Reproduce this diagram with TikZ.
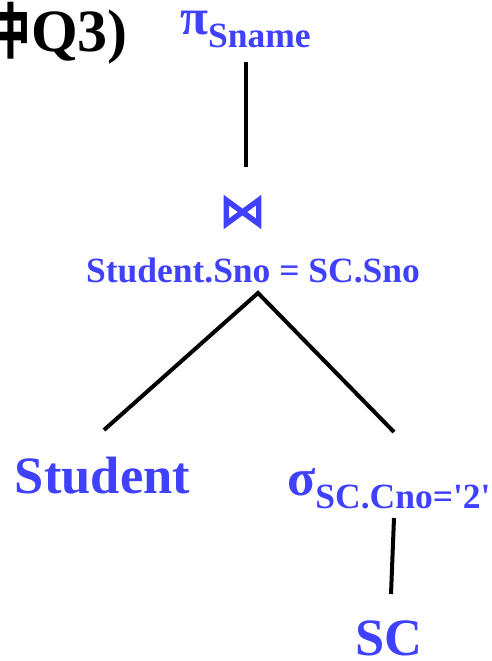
\documentclass[tikz,border=0pt]{standalone}
\usepackage{fontspec}
\setmainfont{Liberation Serif}
\newfontfamily\cjkfont{Noto Sans CJK SC}
\newfontfamily\joinfont[FakeBold=3]{DejaVu Sans}
\usetikzlibrary{calc}
\definecolor{nodeblue}{RGB}{64,64,255}
\begin{document}
\begin{tikzpicture}[x=1pt,y=-1pt,
  lbl/.style={inner sep=0pt, text=nodeblue, font=\bfseries},
  edge/.style={line width=4pt, black}]
\useasboundingbox (0,0) rectangle (491,661);
\clip (0,0) rectangle (491,661);
\node[anchor=base, inner sep=0pt, font=\cjkfont\bfseries\fontsize{60}{60}\selectfont] (zh) at (11,53) {\scalebox{0.65}[1]{中}};
\node[anchor=base west, inner sep=0pt, font=\bfseries\fontsize{60}{60}\selectfont] (title) at (31,52) {Q3)};
\node[lbl, anchor=base west] (proj) at (180,35) {\fontsize{51}{51}\selectfont π\raisebox{-13pt}{\fontsize{35.5}{35.5}\selectfont Sname}};
\node[lbl, font=\joinfont\fontsize{46}{46}\selectfont] (join) at (242.5,212) {⋈};
\node[lbl, anchor=base, font=\bfseries\fontsize{35.5}{35.5}\selectfont] (cond) at (253,282) {Student.Sno = SC.Sno};
\node[lbl, anchor=base, font=\bfseries\fontsize{52.5}{52.5}\selectfont] (stu) at (102.5,493) {Student};
\node[lbl, anchor=base west] (sel) at (287,495) {\fontsize{52}{52}\selectfont σ\raisebox{-13pt}{\fontsize{35.5}{35.5}\selectfont SC.Cno=\textquotesingle 2\textquotesingle}};
\node[lbl, anchor=base, font=\bfseries\fontsize{52.5}{52.5}\selectfont] (sc) at (389,655) {SC};
\draw[edge] ($(proj.base west)+(66,27)$) -- ($(join.center)+(3.5,-45)$);
\draw[edge, line join=miter] ($(stu.base)+(1.5,-63)$) -- ($(cond.base)+(5,11)$) -- ($(sel.base west)+(107,-63)$);
\draw[edge] ($(sel.base west)+(107,23)$) -- ($(sc.base)+(2,-61)$);
\end{tikzpicture}
\end{document}
